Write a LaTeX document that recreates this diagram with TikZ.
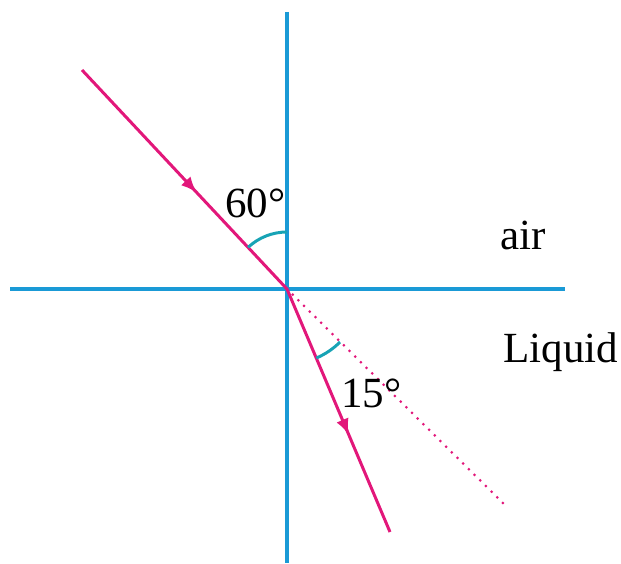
\documentclass[tikz,border=0pt]{standalone}
\usepackage{fontspec}
\setmainfont{Liberation Serif}
\usetikzlibrary{arrows.meta, decorations.markings}
\definecolor{lineblue}{HTML}{1A9AD6}
\definecolor{raypink}{HTML}{E2177A}
\definecolor{arcteal}{HTML}{17A3B5}

\begin{document}
\begin{tikzpicture}[
    x=0.5pt, y=0.5pt,
    axis/.style={draw=lineblue, line width=2pt},
    ray/.style={draw=raypink, line width=1.5pt},
    extended/.style={draw=raypink, line width=1.5pt, line cap=round, dash pattern=on 0pt off 4pt},
    anglearc/.style={draw=arcteal, line width=1.5pt},
    arrowmid/.style={postaction={decorate, decoration={markings,
        mark=at position #1 with {\arrow{Latex[length=8pt, width=6.5pt]}}}}},
    lbl/.style={anchor=base west, inner sep=0pt, font=\fontsize{21.5}{24}\selectfont}
]
\useasboundingbox (0,0) rectangle (621,563);

% points
\coordinate (O) at (287,274);
\coordinate (top) at (287,551);
\coordinate (bottom) at (287,0);
\coordinate (left) at (10,274);
\coordinate (right) at (565,274);
\coordinate (source) at (82,493);
\coordinate (refracted) at (390,31);
\coordinate (straight) at (508,55);

% normal and surface
\draw[axis] (top) -- (bottom);
\draw[axis] (left) -- (right);

% rays
\draw[extended] (O) -- (straight);
\draw[ray, arrowmid=0.56] (source) -- (O);
\draw[ray, arrowmid=0.6] (O) -- (refracted);

% angles
\draw[anglearc] ([shift={(90:57)}]O) arc[start angle=90, end angle=133, radius=57];
\draw[anglearc] ([shift={(-67:75)}]O) arc[start angle=-67, end angle=-45, radius=75];

% labels
\node[lbl] (incidence) at (225,345) {60°};
\node[lbl] (refraction) at (341,156) {15°};
\node[lbl] (air) at (500,314) {air};
\node[lbl] (liquid) at (503,201) {Liquid};

\end{tikzpicture}
\end{document}
